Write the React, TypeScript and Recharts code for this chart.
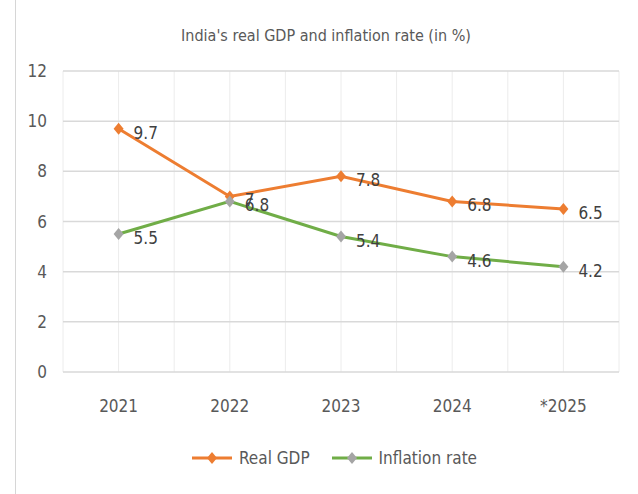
import React from "react"
import { CartesianGrid, LabelList, Line, LineChart, XAxis, YAxis } from "recharts"

const years = ["2021", "2022", "2023", "2024", "*2025"]
const realGdp = [9.7, 7, 7.8, 6.8, 6.5]
const inflationRate = [5.5, 6.8, 5.4, 4.6, 4.2]
const yTicks = [0, 2, 4, 6, 8, 10, 12]

const colors = { gdp: "#ED7D31", inflation: "#70AD47", inflationDot: "#A5A5A5" }
const font = "'Liberation Sans Narrow', 'Arial Narrow', 'DejaVu Sans Condensed', sans-serif"
const textColor = "#595959"

// categories sit in the middle of each unit slot, so the grid can also mark the slot edges
const data = years.map((year, i) => ({
  year,
  slot: i + 0.5,
  gdp: realGdp[i],
  inflation: inflationRate[i],
}))
const catTicks = data.map((d) => d.slot)
const gridTicks = Array.from({ length: years.length * 2 }, (_, i) => (i + 1) / 2)

const diamond = (fill: string) => (props: any) => {
  const { cx, cy, index } = props
  if (cx == null || cy == null) return <g key={index} />
  const r = 6
  return (
    <path
      key={index}
      d={`M${cx},${cy - r}L${cx + r - 1},${cy}L${cx},${cy + r}L${cx - r + 1},${cy}Z`}
      fill={fill}
    />
  )
}

const valueLabel = (props: any) => {
  const { x, y, value, index } = props
  return (
    <text key={index} x={x + 15} y={y + 5} dominantBaseline="middle" fill="#404040" fontSize={17} fontFamily={font}>
      {value}
    </text>
  )
}

function LegendItem({ line, dot, label }: { line: string; dot: string; label: string }) {
  return (
    <div style={{ display: "flex", alignItems: "center", marginRight: 22 }}>
      <svg width={40} height={14}>
        <line x1={0} y1={7} x2={40} y2={7} stroke={line} strokeWidth={3} />
        <path d="M20,1L25,7L20,13L15,7Z" fill={dot} />
      </svg>
      <span style={{ marginLeft: 7, fontSize: 17, color: textColor, fontFamily: font }}>{label}</span>
    </div>
  )
}

export default function App() {
  return (
    <div style={{ position: "absolute", left: 0, top: 0, width: 638, height: 494, background: "#fff" }}>
      <div style={{ position: "absolute", left: 15, top: 0, width: 1, height: 494, background: "#d6d6d6" }} />
      <div
        style={{
          position: "absolute",
          top: 26,
          left: 0,
          width: 652,
          textAlign: "center",
          fontSize: 16,
          color: textColor,
          fontFamily: font,
        }}
      >
        India's real GDP and inflation rate (in %)
      </div>
      <LineChart width={638} height={494} data={data} margin={{ top: 71, right: 19, bottom: 0, left: 0 }}>
        <CartesianGrid xAxisId="grid" horizontal={false} stroke="#ececec" strokeWidth={1} />
        <CartesianGrid xAxisId="grid" vertical={false} stroke="#d9d9d9" strokeWidth={1.5} />
        <XAxis xAxisId="grid" type="number" dataKey="slot" domain={[0, 5]} ticks={gridTicks} hide />
        <XAxis
          xAxisId="cat"
          type="number"
          dataKey="slot"
          domain={[0, 5]}
          ticks={catTicks}
          tickFormatter={(v: number) => years[Math.round(v - 0.5)]}
          height={122}
          axisLine={false}
          tickLine={false}
          tickSize={0}
          tickMargin={28}
          tick={{ fill: textColor, fontSize: 17, fontFamily: font }}
        />
        <YAxis
          domain={[0, 12]}
          ticks={yTicks}
          width={63}
          axisLine={false}
          tickLine={false}
          tickSize={0}
          tickMargin={16}
          tick={{ fill: textColor, fontSize: 17, fontFamily: font }}
        />
        <Line
          xAxisId="cat"
          dataKey="gdp"
          stroke={colors.gdp}
          strokeWidth={3}
          dot={diamond(colors.gdp)}
          activeDot={false}
          isAnimationActive={false}
        >
          <LabelList dataKey="gdp" content={valueLabel} />
        </Line>
        <Line
          xAxisId="cat"
          dataKey="inflation"
          stroke={colors.inflation}
          strokeWidth={3}
          dot={diamond(colors.inflationDot)}
          activeDot={false}
          isAnimationActive={false}
        >
          <LabelList dataKey="inflation" content={valueLabel} />
        </Line>
      </LineChart>
      <div style={{ position: "absolute", top: 448, left: 192, display: "flex" }}>
        <LegendItem line={colors.gdp} dot={colors.gdp} label="Real GDP" />
        <LegendItem line={colors.inflation} dot={colors.inflationDot} label="Inflation rate" />
      </div>
    </div>
  )
}
